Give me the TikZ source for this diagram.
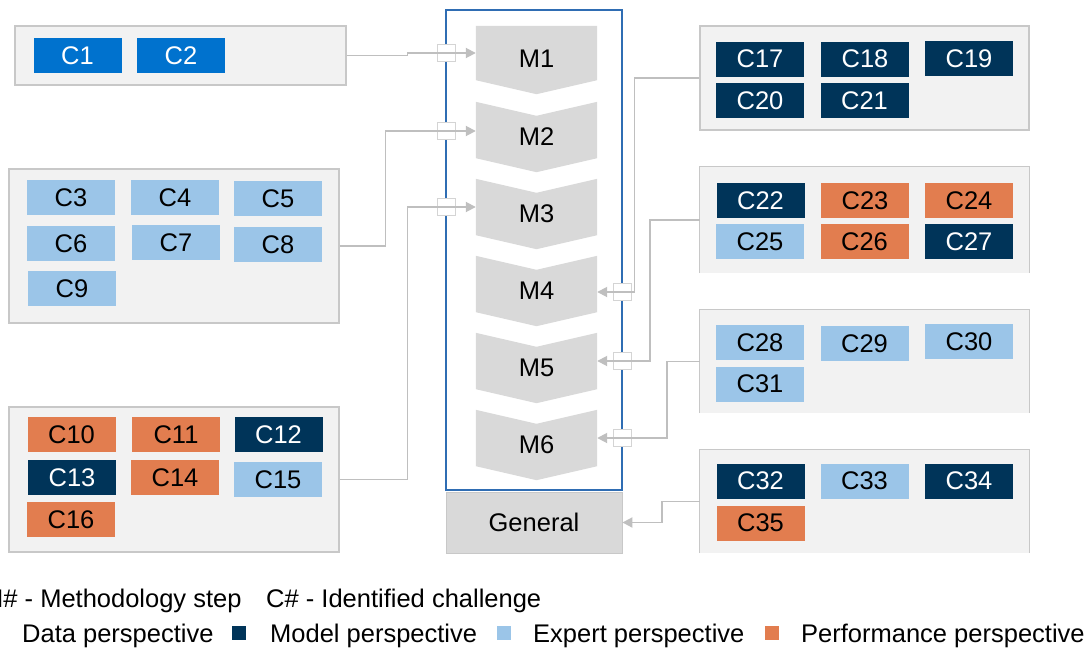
\documentclass[tikz,border=0pt]{standalone}
\usepackage{fontspec}
\setmainfont{Liberation Sans}
\usetikzlibrary{arrows.meta,backgrounds}
\definecolor{datablue}{HTML}{0072CE}
\definecolor{navy}{HTML}{003459}
\definecolor{lightblue}{HTML}{9BC5E8}
\definecolor{orng}{HTML}{E27D4F}
\definecolor{panelfill}{HTML}{F2F2F2}
\definecolor{panelline}{HTML}{C8C8C8}
\definecolor{chevfill}{HTML}{D9D9D9}
\definecolor{framecol}{HTML}{2F6DB3}
\definecolor{conncol}{HTML}{BFBFBF}
\definecolor{portline}{HTML}{D4D4D4}

\begin{document}
\begin{tikzpicture}[x=1pt,y=-1pt,
  lbl/.style={font=\fontsize{25.5}{30}\selectfont},
  cell/.style={lbl, minimum width=88pt, minimum height=35pt, inner sep=0pt},
  dcell/.style={cell, fill=datablue, text=white},
  mcell/.style={cell, fill=navy, text=white},
  ecell/.style={cell, fill=lightblue, text=black},
  pcell/.style={cell, fill=orng, text=black},
  panel/.style={fill=panelfill, inner sep=0pt},
  boxed/.style={panel, draw=panelline, line width=1.1pt},
  stepnode/.style={lbl, minimum width=121pt, minimum height=70pt, inner sep=0pt},
  chev/.style={fill=chevfill},
  port/.style={fill=white, draw=portline, line width=0.8pt, minimum width=18pt, minimum height=17pt, inner sep=0pt},
  conn/.style={draw=conncol, line width=1.8pt, -{Triangle[length=10pt,width=10pt]}},
  legtext/.style={font=\fontsize{25.5}{30}\selectfont, inner sep=0pt, anchor=base west},
  legsq/.style={minimum width=14pt, minimum height=14pt, inner sep=0pt}
]
\useasboundingbox (0,0) rectangle (1085,648);
\clip (0,0) rectangle (1085,648);

% ---- left challenge groups ----
\node[boxed, minimum width=331pt, minimum height=59pt] (L1) at (180.5,55.5) {};
\node[dcell] (C1) at (77.5,55.5) {C1};
\node[dcell] (C2) at (181,55.5) {C2};

\node[boxed, minimum width=330pt, minimum height=154pt] (L2) at (174,246) {};
\node[ecell] (C3) at (71,197.5) {C3};
\node[ecell] (C4) at (175,197.5) {C4};
\node[ecell] (C5) at (278,198.5) {C5};
\node[ecell] (C6) at (71,243.5) {C6};
\node[ecell] (C7) at (176,242.5) {C7};
\node[ecell] (C8) at (278,244.5) {C8};
\node[ecell] (C9) at (72,288.5) {C9};

\node[boxed, minimum width=330pt, minimum height=145pt] (L3) at (174,479.5) {};
\node[pcell] (C10) at (71.5,434.5) {C10};
\node[pcell] (C11) at (176,434.5) {C11};
\node[mcell] (C12) at (278.5,434.5) {C12};
\node[mcell] (C13) at (72,477.5) {C13};
\node[pcell] (C14) at (175,477.5) {C14};
\node[ecell] (C15) at (278,479.5) {C15};
\node[pcell] (C16) at (71,519.5) {C16};

% ---- right challenge groups ----
\node[boxed, minimum width=329pt, minimum height=104pt] (R1) at (864.5,78) {};
\node[mcell] (C17) at (760,59) {C17};
\node[mcell] (C18) at (865,59) {C18};
\node[mcell] (C19) at (969,58.5) {C19};
\node[mcell] (C20) at (760,100.5) {C20};
\node[mcell] (C21) at (864.5,100.5) {C21};

\node[panel, minimum width=329pt, minimum height=106pt] (R2) at (864.5,220) {};
\draw[panelline, line width=1.1pt] (R2.south west) |- (R2.north east) -- (R2.south east);
\node[mcell] (C22) at (760.5,200.5) {C22};
\node[pcell] (C23) at (865,200.5) {C23};
\node[pcell] (C24) at (969,200.5) {C24};
\node[ecell] (C25) at (760,241.5) {C25};
\node[pcell] (C26) at (864.5,241.5) {C26};
\node[mcell] (C27) at (969,241.5) {C27};

\node[panel, minimum width=329pt, minimum height=103pt] (R3) at (864.5,361.5) {};
\draw[panelline, line width=1.1pt] (R3.south west) |- (R3.north east) -- (R3.south east);
\node[ecell] (C28) at (760,342.5) {C28};
\node[ecell] (C29) at (864.5,343.5) {C29};
\node[ecell] (C30) at (969,341.5) {C30};
\node[ecell] (C31) at (760,384) {C31};

\node[panel, minimum width=329pt, minimum height=103pt] (R4) at (864.5,501.5) {};
\draw[panelline, line width=1.1pt] (R4.south west) |- (R4.north east) -- (R4.south east);
\node[mcell] (C32) at (760.5,481) {C32};
\node[ecell] (C33) at (864.5,481) {C33};
\node[mcell] (C34) at (969,481) {C34};
\node[pcell] (C35) at (760.5,523) {C35};

% ---- methodology steps ----
\node[draw=framecol, line width=1.8pt, minimum width=176pt, minimum height=480pt, inner sep=0pt] (frame) at (534,250) {};
\node[stepnode] (M1) at (536.5,59) {M1};
\node[stepnode] (M2) at (536.5,137) {M2};
\node[stepnode] (M3) at (536.5,214) {M3};
\node[stepnode] (M4) at (536.5,291) {M4};
\node[stepnode] (M5) at (536.5,368) {M5};
\node[stepnode] (M6) at (536.5,445) {M6};
\begin{scope}[on background layer]
  \fill[chev] ([yshift=-2pt]M1.north west) -- ([yshift=-2pt]M1.north east) -- ([yshift=14pt]M1.south east)
     -- (M1.south) -- ([yshift=14pt]M1.south west) -- cycle;
  \foreach \m in {M2,M3,M4,M5,M6}{
    \fill[chev] (\m.north west) -- ([yshift=-14pt]\m.north) -- (\m.north east) -- ([yshift=14pt]\m.south east)
       -- (\m.south) -- ([yshift=14pt]\m.south west) -- cycle;
  }
\end{scope}
\node[lbl, fill=chevfill, draw=panelline, line width=0.8pt, minimum width=176pt, minimum height=61pt, inner sep=0pt] (Gen) at (534,522.5) {General};

% ---- ports on the frame ----
\node[port] (p1) at (446,53) {};
\node[port] (p2) at (446,131) {};
\node[port] (p3) at (446,207) {};
\node[port] (p4) at (622,292) {};
\node[port] (p5) at (622,361) {};
\node[port] (p6) at (622,438) {};

% ---- connectors ----
\draw[conn] (L1.east) -- ++(61,0) |- ([yshift=6pt]M1.west);
\draw[conn] (L2.east) -- ++(46,0) |- ([yshift=6pt]M2.west);
\draw[conn] (L3.east) -- ++(68,0) |- ([yshift=7pt]M3.west);
\draw[conn] (R1.west) -- ++(-65,0) |- ([yshift=-1pt]M4.east);
\draw[conn] (R2.west) -- ++(-50,0) |- ([yshift=7pt]M5.east);
\draw[conn] (R3.west) -- ++(-33,0) |- ([yshift=7pt]M6.east);
\draw[conn] (R4.west) -- ++(-38,0) |- (Gen.east);

% ---- legend ----
\node[legtext] (legM) at (-18,607) {M\# - Methodology step};
\node[legtext] (legC) at (266,607) {C\# - Identified challenge};
\node[legsq, fill=datablue] (sqD) at (-9,633) {};
\node[legtext] (legD) at (22,642) {Data perspective};
\node[legsq, fill=navy] (sqM) at (239,633) {};
\node[legtext] (legMo) at (270,642) {Model perspective};
\node[legsq, fill=lightblue] (sqE) at (504,633) {};
\node[legtext] (legE) at (533,642) {Expert perspective};
\node[legsq, fill=orng] (sqP) at (772,633) {};
\node[legtext] (legP) at (801,642) {Performance perspective};
\end{tikzpicture}
\end{document}
